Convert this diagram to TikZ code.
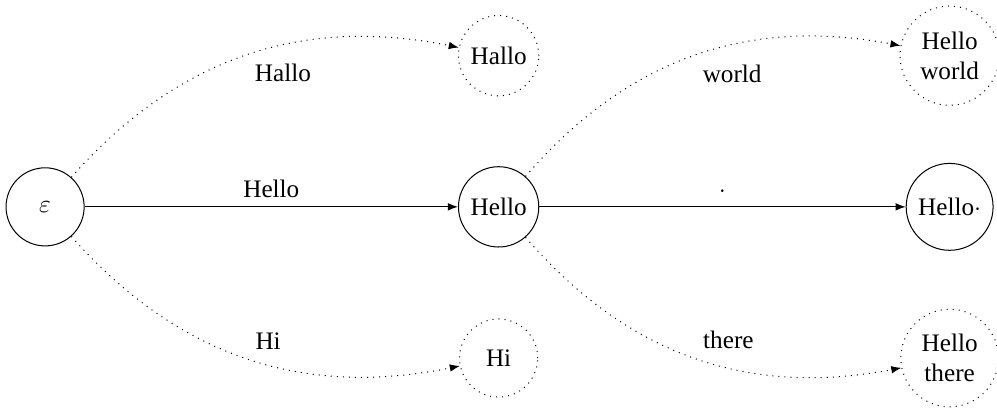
\documentclass[tikz,border=0pt]{standalone}
\usepackage{fontspec}
\setmainfont{Liberation Serif}
\usepackage{tikz}
\usetikzlibrary{
  arrows.meta,
}

\begin{document}
\begin{tikzpicture}[
  state/.style={
    draw,
    circle,
    align = center,
    minimum size = 31pt,
  },
  maybe state/.style={
    state,
    dotted,
  },
  step edge/.style={
    -{Latex[length=4pt]},
  },
  maybe edge/.style={
    step edge,
    dotted,
  },
  ]
  \useasboundingbox (-17.9pt,-81pt) rectangle (377.8pt,82.1pt);
  \path
  node [state, name=node-empty] at (0pt,0pt) {$\varepsilon$}
  node [state, name=node-hello] at (180pt,0pt) {Hello}
  node [maybe state, name=node-hallo] at (180pt,60pt) {Hallo}
  node [maybe state, name=node-hi] at (180pt,-60pt) {Hi}
  node [state, name=node-hellodot] at (359pt,0pt) {Hello$\cdot$}
  node [maybe state, name=node-world] at (359pt,60pt) {Hello\\world}
  node [maybe state, name=node-there] at (359pt,-60pt) {Hello\\there};
  % from the empty prefix
  \draw [step edge] (node-empty) to node [auto] {Hello} (node-hello);
  \draw [maybe edge] (node-empty) to [bend left] node [auto, swap] {Hallo} (node-hallo);
  \draw [maybe edge] (node-empty) to [bend right] node [auto] {Hi} (node-hi);
  % from Hello
  \draw [step edge] (node-hello) to node [auto] {$\cdot$} (node-hellodot);
  \draw [maybe edge] (node-hello) to [bend left] node [auto, swap] {world} (node-world);
  \draw [maybe edge] (node-hello) to [bend right] node [auto] {there} (node-there);
\end{tikzpicture}
\end{document}
